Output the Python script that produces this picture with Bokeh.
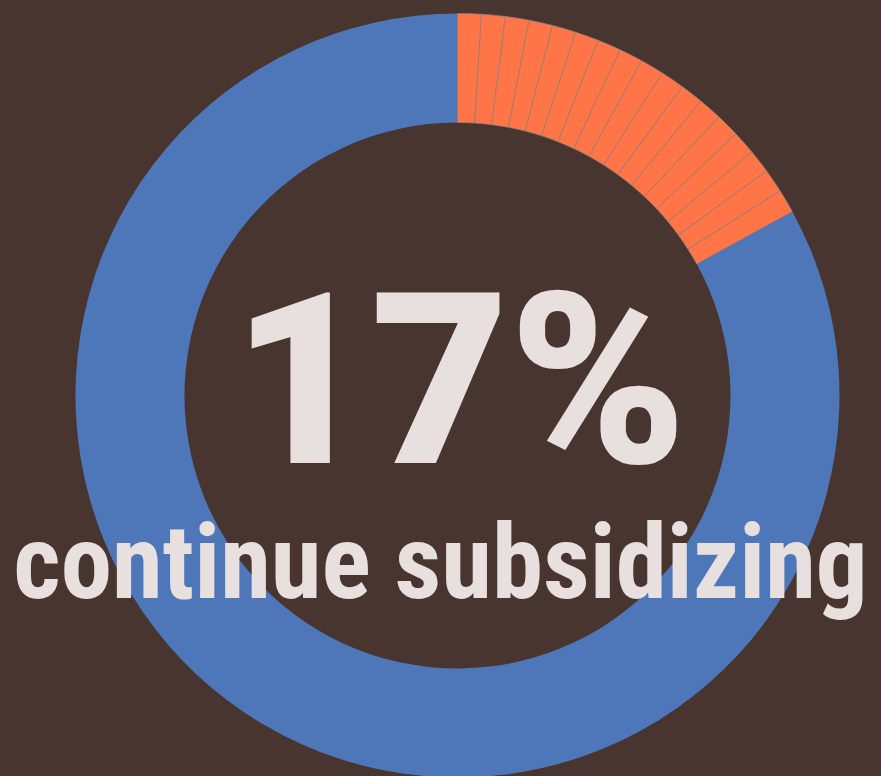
import math
from bokeh.plotting import figure
from bokeh.models import Range1d, ColumnDataSource
from bokeh.core.properties import value
from bokeh.embed import file_html
from bokeh.resources import INLINE

# data
labels = ["continue subsidizing", "other"]
shares = [17, 83]
headline = "17%"
caption = "continue subsidizing"

BG = "#483530"
ORANGE = "#FF7547"
BLUE = "#4E77BA"
TXT = "#E8E0DF"

W, H = 881, 776
p = figure(width=W, height=H, output_backend="svg", toolbar_location=None,
           x_range=Range1d(-457, 424), y_range=Range1d(-381, 395),
           min_border=0, background_fill_color=BG, border_fill_color=BG)
p.axis.visible = False
p.grid.visible = False
p.outline_line_color = None

R_OUT, R_IN = 382, 273
total = sum(shares)
n = shares[0]
starts, ends = [], []
for i in range(n):
    starts.append(math.radians(90 - 360 * i / total))
    ends.append(math.radians(90 - 360 * (i + 1) / total))
src_o = ColumnDataSource(dict(x=[0] * n, y=[0] * n, s=starts, e=ends))
b_start = math.radians(90 - 360 * shares[0] / total)
b_end = math.radians(90 - 360)
p.annular_wedge(x=0, y=0, inner_radius=R_IN, outer_radius=R_OUT,
                start_angle=b_start, end_angle=b_end, direction="clock",
                fill_color=BLUE, line_color=None)
p.annular_wedge(x="x", y="y", inner_radius=R_IN, outer_radius=R_OUT,
                start_angle="s", end_angle="e", direction="clock", source=src_o,
                fill_color=ORANGE, line_color="#968079", line_width=0.9, line_alpha=0.9)

p.text(x=[2], y=[15], text=[headline], text_font=value("Roboto Black"),
       text_font_size="239px", text_font_style="bold", text_color=TXT,
       text_align="center", text_baseline="alphabetic")
p.text(x=[-17], y=[-167], text=[caption], text_font=value("Roboto Condensed"),
       text_font_size="103px", text_font_style="bold", text_color=TXT,
       text_align="center", text_baseline="alphabetic")

html = file_html(p, INLINE)
html = html.replace("<head>", "<head><style>html,body{background:%s;}</style>" % BG, 1)
open("out.html", "w").write(html)
